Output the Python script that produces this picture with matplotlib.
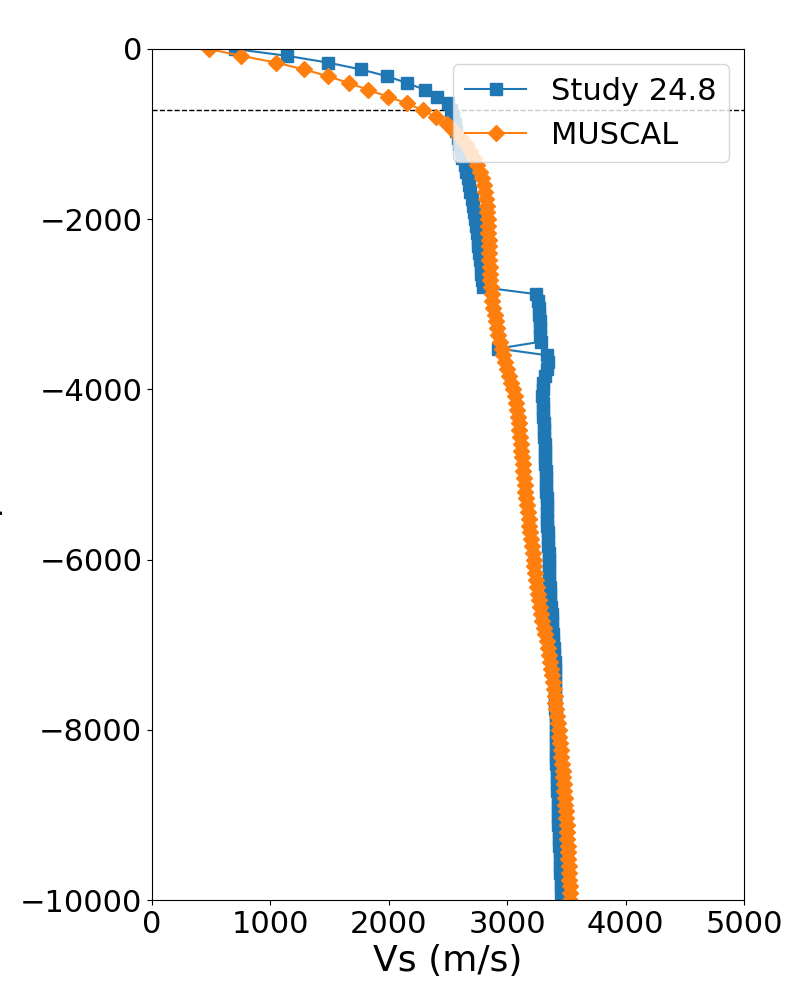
import matplotlib
matplotlib.use('Agg')
import matplotlib.pyplot as plt

# depth samples (m), same for both profiles
depth = [0, -80, -160, -240, -320, -400, -480, -560, -640, -720,
         -800, -880, -960, -1040, -1120, -1200, -1280, -1360, -1440, -1520,
         -1600, -1680, -1760, -1840, -1920, -2000, -2080, -2160, -2240, -2320,
         -2400, -2480, -2560, -2640, -2720, -2800, -2880, -2960, -3040, -3120,
         -3200, -3280, -3360, -3440, -3520, -3600, -3680, -3760, -3840, -3920,
         -4000, -4080, -4160, -4240, -4320, -4400, -4480, -4560, -4640, -4720,
         -4800, -4880, -4960, -5040, -5120, -5200, -5280, -5360, -5440, -5520,
         -5600, -5680, -5760, -5840, -5920, -6000, -6080, -6160, -6240, -6320,
         -6400, -6480, -6560, -6640, -6720, -6800, -6880, -6960, -7040, -7120,
         -7200, -7280, -7360, -7440, -7520, -7600, -7680, -7760, -7840, -7920,
         -8000, -8080, -8160, -8240, -8320, -8400, -8480, -8560, -8640, -8720,
         -8800, -8880, -8960, -9040, -9120, -9200, -9280, -9360, -9440, -9520,
         -9600, -9680, -9760, -9840, -9920, -10000]

vs_study = [700, 1140, 1486, 1765, 1985, 2154, 2306, 2407, 2500, 2525,
            2540, 2555, 2570, 2585, 2597, 2608, 2620, 2640, 2655, 2668,
            2680, 2690, 2700, 2708, 2716, 2730, 2735, 2742, 2750, 2755,
            2765, 2770, 2775, 2780, 2788, 2795, 3240, 3258, 3266, 3272,
            3275, 3278, 3280, 3282, 2925, 3340, 3345, 3338, 3318, 3305,
            3300, 3298, 3303, 3306, 3305, 3309, 3312, 3311, 3316, 3318,
            3320, 3321, 3325, 3326, 3327, 3331, 3332, 3333, 3337, 3338,
            3340, 3343, 3344, 3345, 3349, 3350, 3353, 3354, 3357, 3358,
            3362, 3365, 3370, 3375, 3378, 3381, 3387, 3390, 3393, 3398,
            3400, 3402, 3403, 3404, 3405, 3406, 3406, 3407, 3408, 3409,
            3410, 3411, 3412, 3413, 3414, 3416, 3418, 3419, 3420, 3422,
            3425, 3427, 3429, 3431, 3433, 3435, 3437, 3440, 3442, 3444,
            3447, 3450, 3452, 3455, 3458, 3460]

vs_muscal = [480, 752, 1047, 1284, 1486, 1664, 1824, 1993, 2154, 2289,
             2399, 2492, 2550, 2610, 2655, 2690, 2720, 2745, 2770, 2790,
             2805, 2815, 2823, 2829, 2833, 2837, 2840, 2842, 2844, 2846,
             2848, 2850, 2852, 2855, 2858, 2862, 2868, 2875, 2884, 2893,
             2903, 2914, 2926, 2938, 2952, 2966, 2980, 2995, 3012, 3030,
             3050, 3065, 3076, 3084, 3091, 3097, 3103, 3108, 3113, 3118,
             3124, 3130, 3136, 3142, 3148, 3154, 3160, 3167, 3174, 3181,
             3188, 3195, 3202, 3209, 3216, 3223, 3230, 3237, 3244, 3251,
             3259, 3268, 3277, 3287, 3297, 3308, 3320, 3332, 3344, 3355,
             3364, 3372, 3379, 3386, 3393, 3400, 3407, 3414, 3421, 3428,
             3434, 3440, 3446, 3452, 3458, 3463, 3468, 3473, 3478, 3483,
             3487, 3491, 3495, 3498, 3501, 3504, 3507, 3510, 3513, 3516,
             3519, 3522, 3525, 3528, 3530, 3532]

ref_depth = -715

fig, ax = plt.subplots(figsize=(8, 10), dpi=100)
fig.subplots_adjust(left=0.19, right=0.93, top=0.951, bottom=0.10)

ax.axhline(ref_depth, color='k', linestyle='--', linewidth=1)
ax.plot(vs_study, depth, 's-', color='tab:blue', markersize=8.5,
        label='Study 24.8')
ax.plot(vs_muscal, depth, 'D-', color='tab:orange', markersize=8.5,
        label='MUSCAL')

ax.set_xlim(0, 5000)
ax.set_ylim(-10000, 0)
ax.set_xticks([0, 1000, 2000, 3000, 4000, 5000])
ax.set_yticks([0, -2000, -4000, -6000, -8000, -10000])
ax.tick_params(labelsize=22)

ax.set_xlabel('Vs (m/s)', fontsize=26)
ax.set_ylabel('Depth (m)', fontsize=26)
# label sits almost entirely past the left edge, as in the original
ax.yaxis.set_label_coords(-0.252, 0.5)

ax.legend(loc='upper right', fontsize=22)

plt.savefig('out.png', dpi=100)
